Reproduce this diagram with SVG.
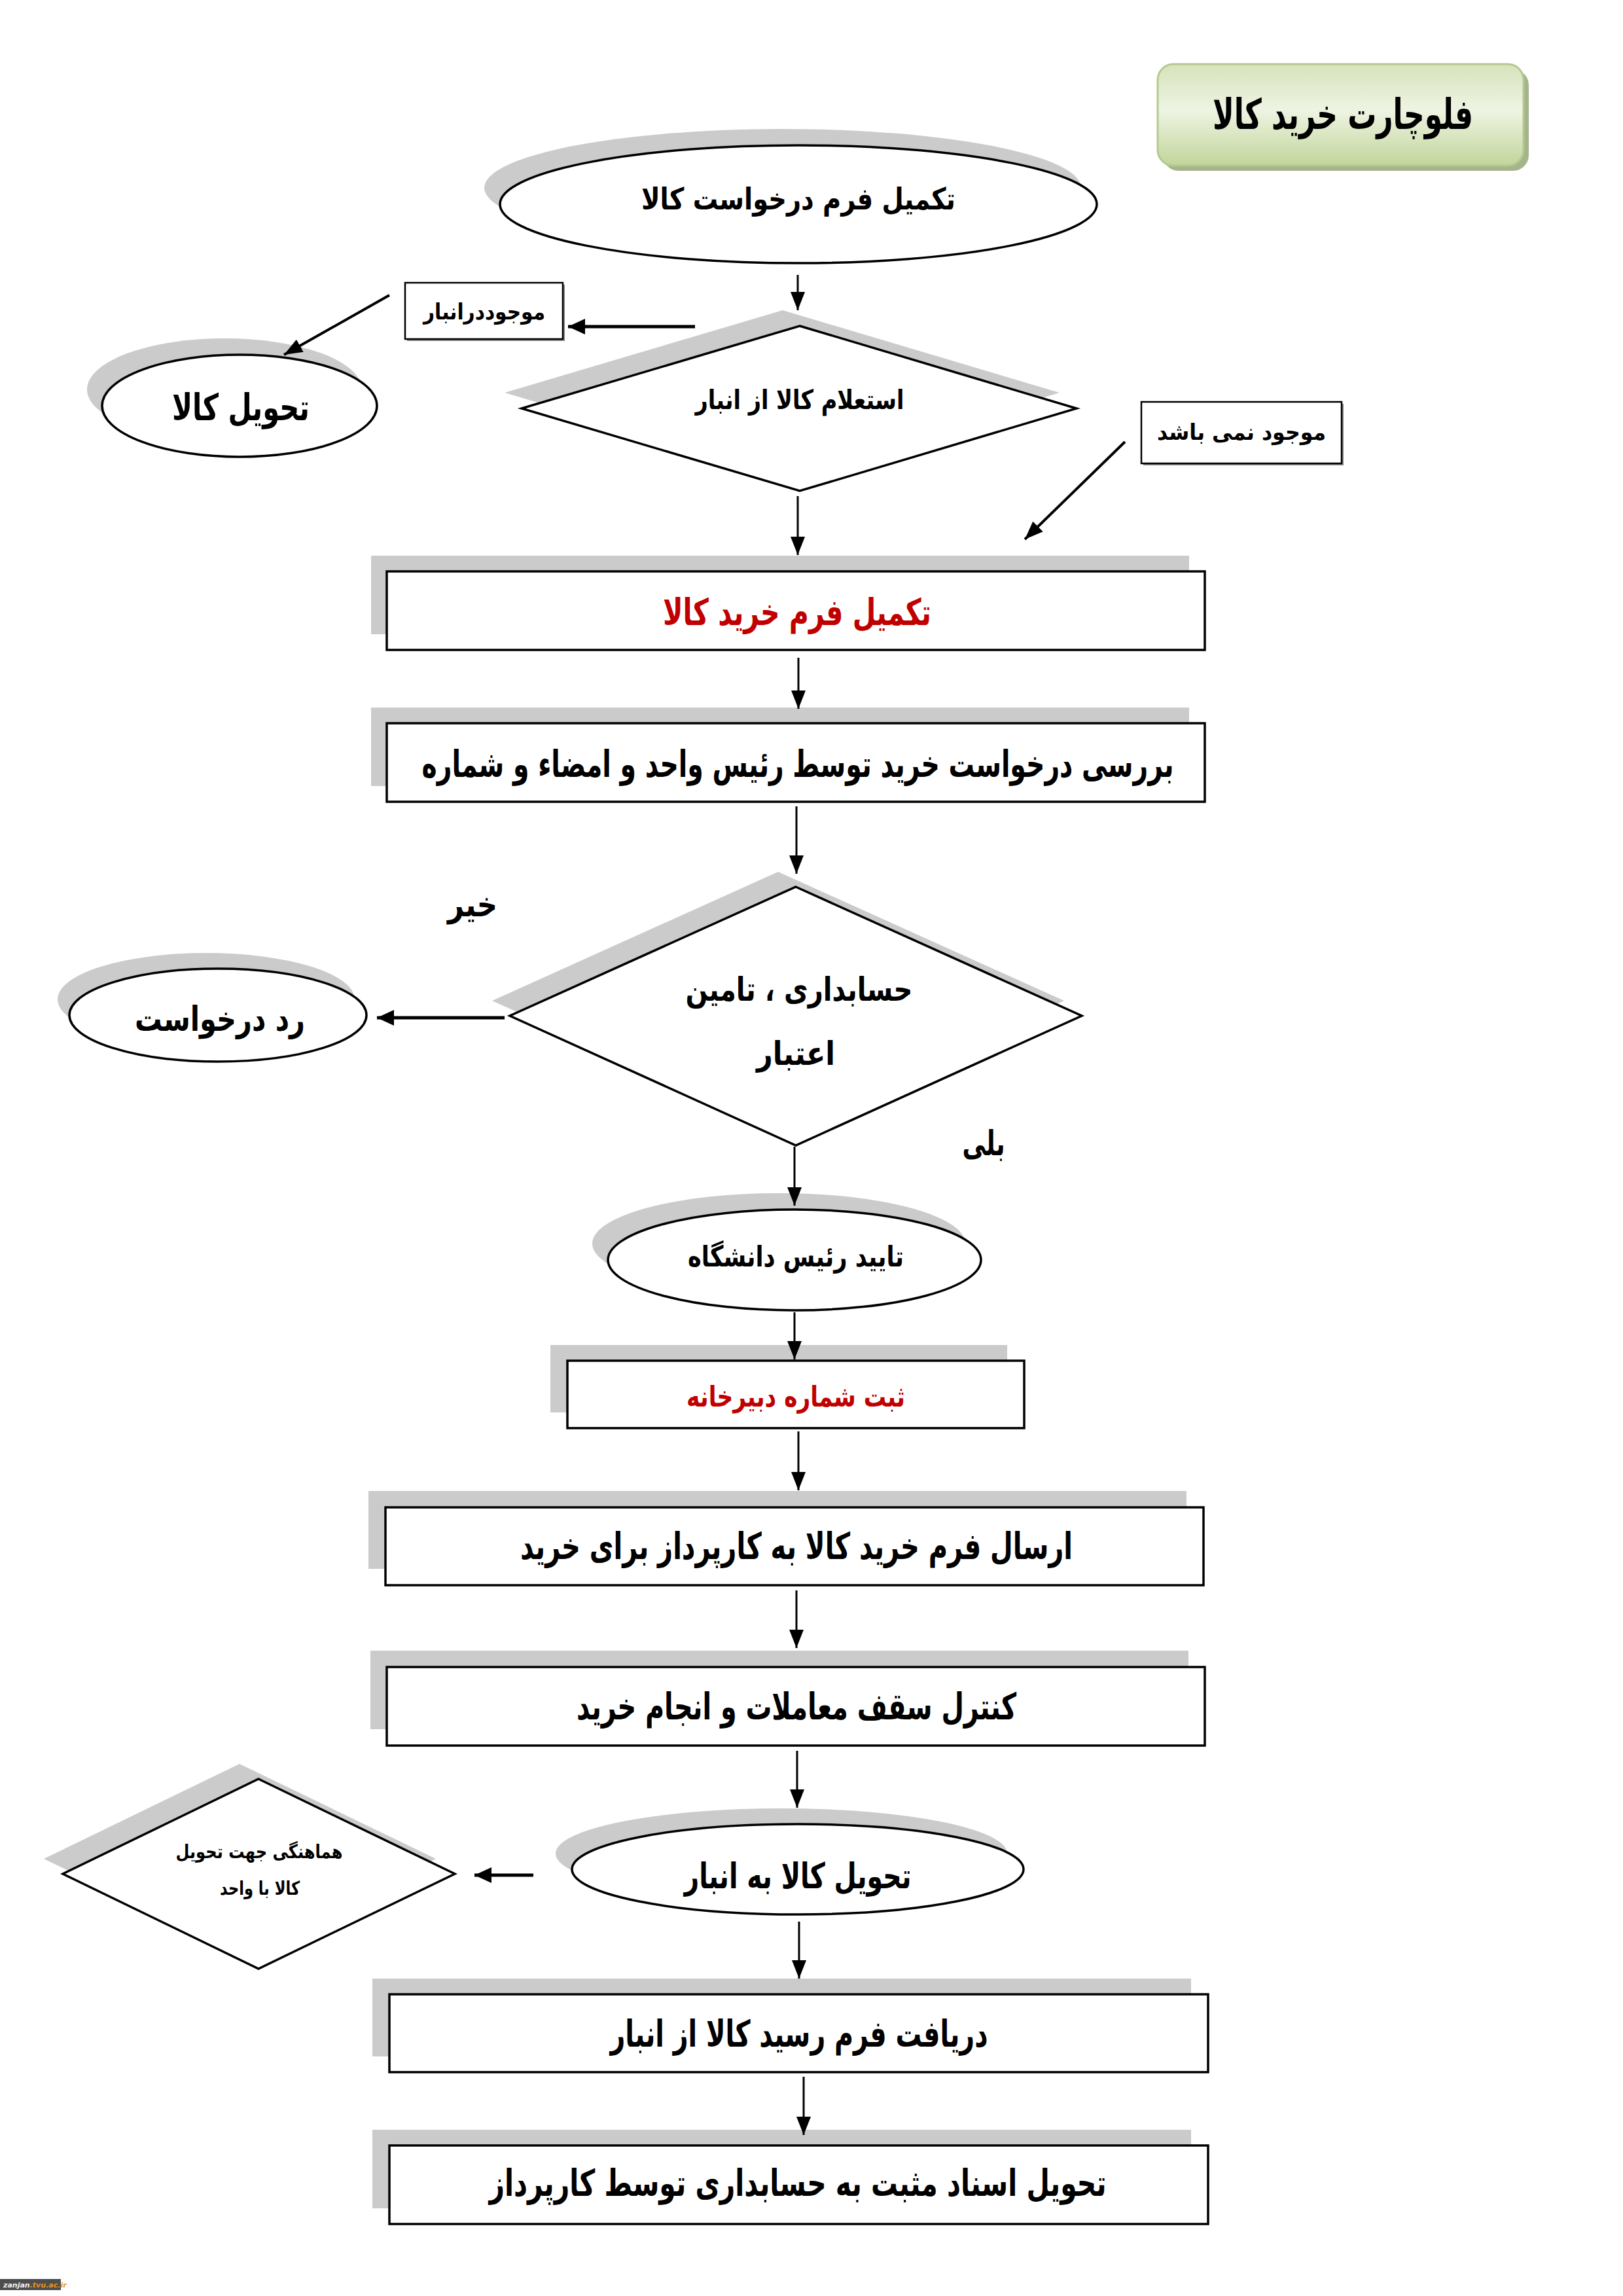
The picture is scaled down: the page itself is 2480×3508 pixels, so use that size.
<svg xmlns="http://www.w3.org/2000/svg" width="2480" height="3508" viewBox="0 0 2480 3508">
<defs>
<style>
.t{font-family:'DejaVu Sans','Noto Sans',sans-serif;font-weight:bold;fill:#000;text-anchor:middle}
.red{fill:#c00000}
.sh{fill:#cbcbcb;stroke:none}
.shape{fill:#fff;stroke:#000;stroke-width:3.5}
.box{fill:#fff;stroke:#000;stroke-width:2.5}
.ln{stroke:#000;stroke-width:3;fill:none;marker-end:url(#ah)}
.lnb{stroke:#000;stroke-width:5;fill:none;marker-end:url(#ahb)}
</style>
<marker id="ah" markerUnits="userSpaceOnUse" markerWidth="30" markerHeight="24" refX="28" refY="11" orient="auto">
<path d="M0,0 L28,11 L0,22 z" fill="#000"/>
</marker>
<marker id="ahb" markerUnits="userSpaceOnUse" markerWidth="30" markerHeight="26" refX="26" refY="12" orient="auto">
<path d="M0,0 L26,12 L0,24 z" fill="#000"/>
</marker>
<linearGradient id="tg" x1="0" y1="0" x2="0" y2="1">
<stop offset="0" stop-color="#d6e3bb"/>
<stop offset="0.45" stop-color="#eef4e3"/>
<stop offset="1" stop-color="#c2d59a"/>
</linearGradient>
</defs>
<rect width="2480" height="3508" fill="#fff"/>

<g id="title">
<rect x="1777" y="106" width="559" height="155" rx="24" fill="#a5b48c"/>
<rect x="1769" y="98" width="559" height="155" rx="24" fill="url(#tg)" stroke="#b4c98e" stroke-width="3"/>
<text class="t" x="2052" y="197" font-size="64" textLength="398" lengthAdjust="spacingAndGlyphs">فلوچارت خرید کالا</text>
</g>

<g id="n1">
<ellipse class="sh" cx="1196" cy="287" rx="456" ry="90"/>
<ellipse class="shape" cx="1220" cy="312" rx="456" ry="90"/>
<text class="t" x="1220" y="320" font-size="46" textLength="480" lengthAdjust="spacingAndGlyphs">تکمیل فرم درخواست کالا</text>
</g>

<g id="n_mojud">
<rect x="622" y="435" width="241" height="86" fill="#888"/>
<rect class="box" x="619" y="432" width="241" height="86"/>
<text class="t" x="740" y="488" font-size="34" textLength="186" lengthAdjust="spacingAndGlyphs">موجوددرانبار</text>
</g>

<g id="n_tahvil">
<ellipse class="sh" cx="343" cy="595" rx="210" ry="78"/>
<ellipse class="shape" cx="366" cy="620" rx="210" ry="78"/>
<text class="t" x="368" y="642" font-size="56" textLength="210" lengthAdjust="spacingAndGlyphs">تحویل کالا</text>
</g>

<g id="n_esteelam">
<polygon class="sh" points="1196,474 1619,600 1196,726 771,600"/>
<polygon class="shape" points="1222,498 1645,624 1222,750 797,624"/>
<text class="t" x="1222" y="625" font-size="41" textLength="319" lengthAdjust="spacingAndGlyphs">استعلام کالا از انبار</text>
</g>

<g id="n_nist">
<rect x="1747" y="617" width="306" height="94" fill="#888"/>
<rect class="box" x="1744" y="614" width="306" height="94"/>
<text class="t" x="1897" y="672" font-size="34" textLength="258" lengthAdjust="spacingAndGlyphs">موجود نمی باشد</text>
</g>

<g id="n_kharid">
<rect class="sh" x="567" y="849" width="1250" height="120"/>
<rect class="shape" x="591" y="873" width="1250" height="120"/>
<text class="t red" x="1218" y="955" font-size="56" textLength="410" lengthAdjust="spacingAndGlyphs">تکمیل فرم خرید کالا</text>
</g>

<g id="n_barresi">
<rect class="sh" x="567" y="1081" width="1250" height="120"/>
<rect class="shape" x="591" y="1105" width="1250" height="120"/>
<text class="t" x="1219" y="1187" font-size="56" textLength="1149" lengthAdjust="spacingAndGlyphs">بررسی درخواست خرید توسط رئیس واحد و امضاء و شماره</text>
</g>

<g id="n_hesab">
<polygon class="sh" points="1189,1332 1626,1529 1189,1727 752,1529"/>
<polygon class="shape" points="1216,1355 1653,1552 1216,1750 779,1552"/>
<text class="t" x="1221" y="1529" font-size="50" textLength="347" lengthAdjust="spacingAndGlyphs">حسابداری ، تامین</text>
<text class="t" x="1216" y="1627" font-size="50" textLength="120" lengthAdjust="spacingAndGlyphs">اعتبار</text>
</g>

<g id="n_rad">
<ellipse class="sh" cx="315" cy="1527" rx="227" ry="71"/>
<ellipse class="shape" cx="333" cy="1551" rx="227" ry="71"/>
<text class="t" x="336" y="1575" font-size="52" textLength="260" lengthAdjust="spacingAndGlyphs">رد درخواست</text>
</g>

<g id="labels">
<text class="t" x="722" y="1400" font-size="52" textLength="76" lengthAdjust="spacingAndGlyphs">خیر</text>
<text class="t" x="1503" y="1765" font-size="52" textLength="65" lengthAdjust="spacingAndGlyphs">بلی</text>
</g>

<g id="n_taeed">
<ellipse class="sh" cx="1190" cy="1900" rx="285" ry="77"/>
<ellipse class="shape" cx="1214" cy="1925" rx="285" ry="77"/>
<text class="t" x="1216" y="1935" font-size="44" textLength="330" lengthAdjust="spacingAndGlyphs">تایید رئیس دانشگاه</text>
</g>

<g id="n_sabt">
<rect class="sh" x="841" y="2055" width="698" height="103"/>
<rect class="shape" x="867" y="2079" width="698" height="103"/>
<text class="t red" x="1216" y="2149" font-size="44" textLength="334" lengthAdjust="spacingAndGlyphs">ثبت شماره دبیرخانه</text>
</g>

<g id="n_ersal">
<rect class="sh" x="563" y="2278" width="1250" height="119"/>
<rect class="shape" x="589" y="2303" width="1250" height="119"/>
<text class="t" x="1217" y="2382" font-size="56" textLength="844" lengthAdjust="spacingAndGlyphs">ارسال فرم خرید کالا به کارپرداز برای خرید</text>
</g>

<g id="n_kontrol">
<rect class="sh" x="566" y="2522" width="1250" height="120"/>
<rect class="shape" x="591" y="2547" width="1250" height="120"/>
<text class="t" x="1217" y="2627" font-size="56" textLength="672" lengthAdjust="spacingAndGlyphs">کنترل سقف معاملات و انجام خرید</text>
</g>

<g id="n_anbar">
<ellipse class="sh" cx="1194" cy="2832" rx="345" ry="69"/>
<ellipse class="shape" cx="1219" cy="2856" rx="345" ry="69"/>
<text class="t" x="1219" y="2885" font-size="54" textLength="347" lengthAdjust="spacingAndGlyphs">تحویل کالا به انبار</text>
</g>

<g id="n_hamahangi">
<polygon class="sh" points="366,2695 666,2840 366,2985 67,2840"/>
<polygon class="shape" points="395,2718 695,2863 395,3008 96,2863"/>
<text class="t" x="396" y="2839" font-size="29" textLength="255" lengthAdjust="spacingAndGlyphs">هماهنگی جهت تحویل</text>
<text class="t" x="397" y="2895" font-size="29" textLength="122" lengthAdjust="spacingAndGlyphs">کالا با واحد</text>
</g>

<g id="n_daryaft">
<rect class="sh" x="569" y="3023" width="1251" height="119"/>
<rect class="shape" x="595" y="3047" width="1251" height="119"/>
<text class="t" x="1221" y="3127" font-size="56" textLength="577" lengthAdjust="spacingAndGlyphs">دریافت فرم رسید کالا از انبار</text>
</g>

<g id="n_asnad">
<rect class="sh" x="569" y="3254" width="1251" height="120"/>
<rect class="shape" x="595" y="3278" width="1251" height="120"/>
<text class="t" x="1219" y="3355" font-size="56" textLength="943" lengthAdjust="spacingAndGlyphs">تحویل اسناد مثبت به حسابداری توسط کارپرداز</text>
</g>

<g id="connectors">
<line class="ln" x1="1219" y1="420" x2="1219" y2="474"/>
<line class="lnb" x1="1062" y1="499" x2="868" y2="499"/>
<line class="ln" x1="595" y1="451" x2="434" y2="542" style="stroke-width:4"/>
<line class="ln" x1="1219" y1="758" x2="1219" y2="848"/>
<line class="ln" x1="1719" y1="675" x2="1566" y2="824" style="stroke-width:4"/>
<line class="ln" x1="1220" y1="1005" x2="1220" y2="1083"/>
<line class="ln" x1="1217" y1="1232" x2="1217" y2="1335"/>
<line class="lnb" x1="771" y1="1555" x2="576" y2="1555"/>
<line class="ln" x1="1214" y1="1752" x2="1214" y2="1842"/>
<line class="ln" x1="1214" y1="2005" x2="1214" y2="2077"/>
<line class="ln" x1="1220" y1="2187" x2="1220" y2="2277"/>
<line class="ln" x1="1217" y1="2430" x2="1217" y2="2518"/>
<line class="ln" x1="1218" y1="2675" x2="1218" y2="2762"/>
<line class="lnb" x1="815" y1="2865" x2="725" y2="2865"/>
<line class="ln" x1="1221" y1="2936" x2="1221" y2="3023"/>
<line class="ln" x1="1228" y1="3173" x2="1228" y2="3262"/>
</g>

<g id="watermark">
<rect x="0" y="3482" width="93" height="17" fill="#4d4d4d"/>
<text x="5" y="3495" font-family="'DejaVu Sans',sans-serif" font-size="11" font-weight="bold" font-style="italic" fill="#f2f2f2">zanjan<tspan fill="#e8941a">.tvu.ac.ir</tspan></text>
</g>
</svg>
